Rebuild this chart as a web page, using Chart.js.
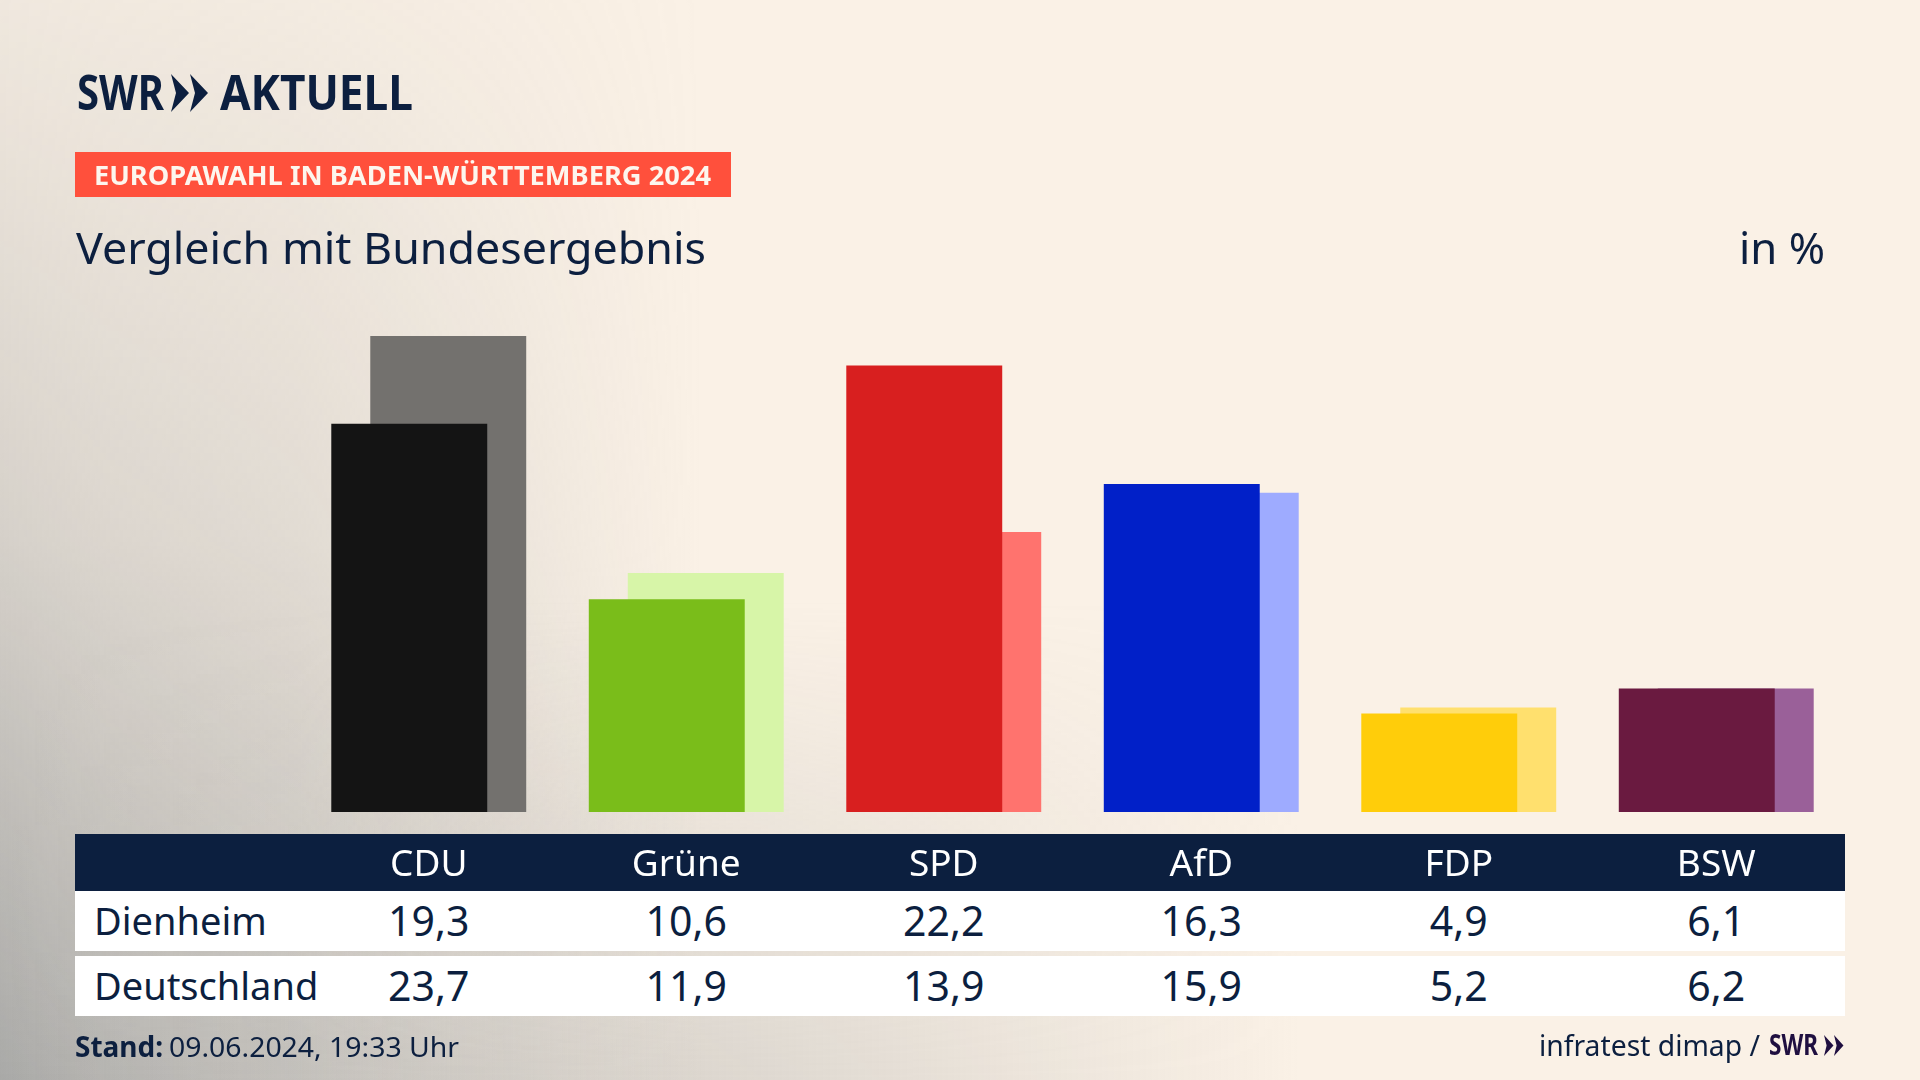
<!DOCTYPE html>
<html lang="de"><head><meta charset="utf-8">
<script src="https://cdn.jsdelivr.net/npm/chart.js@4"></script>
<style>
html,body{margin:0;padding:0;width:1920px;height:1080px;overflow:hidden}
body{position:relative;background:#faf1e6;font-family:"Noto Sans",sans-serif;color:#0c1f3f}
.shade{position:absolute;left:0;top:0;width:1920px;height:1080px}
#shadeA{background:linear-gradient(to right,rgba(169,169,167,1) 0,rgba(169,169,167,.84) 104px,rgba(169,169,167,.66) 300px,rgba(169,169,167,.36) 494px,rgba(169,169,167,0) 702px);
-webkit-mask-image:linear-gradient(to top,rgba(0,0,0,1) 0,rgba(0,0,0,.72) 280px,rgba(0,0,0,.45) 540px,rgba(0,0,0,.12) 1080px);
mask-image:linear-gradient(to top,rgba(0,0,0,1) 0,rgba(0,0,0,.72) 280px,rgba(0,0,0,.45) 540px,rgba(0,0,0,.12) 1080px)}
#shadeB{background:linear-gradient(to right,rgba(169,169,167,0) 0,rgba(169,169,167,.05) 300px,rgba(169,169,167,.23) 494px,rgba(169,169,167,.37) 702px,rgba(169,169,167,.25) 910px,rgba(169,169,167,.12) 1105px,rgba(169,169,167,0) 1300px);
-webkit-mask-image:linear-gradient(to top,rgba(0,0,0,1) 0,rgba(0,0,0,.45) 280px,rgba(0,0,0,0) 480px);
mask-image:linear-gradient(to top,rgba(0,0,0,1) 0,rgba(0,0,0,.45) 280px,rgba(0,0,0,0) 480px)}
.t{position:absolute;white-space:nowrap;line-height:1;transform-origin:0 0}
#chart{position:absolute;left:0;top:0;z-index:2}
.row{position:absolute;left:75px;width:1770px;height:60px;display:grid;grid-template-columns:225px repeat(6,1fr);background:#fff;font-size:41px}
.row div{text-align:center;line-height:58px;height:60px}
.row div:first-child{text-align:left;padding-left:19px;font-size:38px;line-height:59px}
svg{position:absolute}
</style></head><body>
<div class="shade" id="shadeA"></div>
<div class="shade" id="shadeB"></div>
<div class="t" data-w="87" style="left:77px;top:66.5px;font-size:49px;font-weight:700">SWR</div>
<svg style="left:171px;top:74px" width="38" height="38" viewBox="0 0 38 38"><polygon fill="#0c1f3f" points="0,0 18,19 0,38 5,19"/><polygon fill="#0c1f3f" points="19,0 37,19 19,38 24,19"/></svg>
<div class="t" data-w="193" style="left:220px;top:66.5px;font-size:49px;font-weight:700">AKTUELL</div>
<div style="position:absolute;left:75px;top:152px;width:656px;height:45px;background:#ff503c"></div>
<div class="t" data-w="617" style="left:94px;top:162px;font-size:26px;font-weight:700;color:#fdf6ee">EUROPAWAHL IN BADEN-WÜRTTEMBERG 2024</div>
<div class="t" data-w="630" style="left:76px;top:225px;font-size:44px">Vergleich mit Bundesergebnis</div>
<div class="t" data-w="86" style="left:1739px;top:225px;font-size:44px">in %</div>
<div style="position:absolute;left:75px;top:834px;width:1770px;height:57px;background:#0c1f3f"></div>
<div class="row" id="r1" style="top:891px"></div>
<div class="row" id="r2" style="top:956px"></div>
<div class="t" data-w="88" style="left:75px;top:1032px;font-size:28px;font-weight:700">Stand:</div>
<div class="t" data-w="290" style="left:169px;top:1032px;font-size:28px">09.06.2024, 19:33 Uhr</div>
<div class="t" data-w="221" style="left:1539px;top:1030px;font-size:29px">infratest dimap /</div>
<div class="t" data-w="49" style="left:1769px;top:1030px;font-size:28px;font-weight:700;color:#1f0f40">SWR</div>
<svg style="left:1824px;top:1035px" width="20" height="21" viewBox="0 0 38 38" preserveAspectRatio="none"><polygon fill="#1f0f40" points="0,0 18,19 0,38 5,19"/><polygon fill="#1f0f40" points="19,0 37,19 19,38 24,19"/></svg>
<canvas id="chart" width="1920" height="1080"></canvas>
<script>
const categories=["CDU","Grüne","SPD","AfD","FDP","BSW"];
const seriesNames=["Dienheim","Deutschland"];
const dienheim=[19.34,10.6,22.24,16.34,4.9,6.149];
const deutschland=[23.7,11.9,13.94,15.9,5.2,6.151];
const frontColors=["#141414","#7abd1a","#d81f1f","#0120c8","#ffcd0a","#6a1a40"];
const backColors=["#73716e","#d7f5a8","#ff736e","#9eabff","#ffe06e","#9a6099"];
const fmt=v=>v.toFixed(1).replace(".",",");
[["r1",seriesNames[0],dienheim],["r2",seriesNames[1],deutschland]].forEach(([id,n,vals])=>{
  document.getElementById(id).innerHTML="<div>"+n+"</div>"+vals.map(v=>"<div>"+fmt(v)+"</div>").join("");
});
document.querySelectorAll(".t[data-w]").forEach(e=>{
  const w=e.getBoundingClientRect().width;
  e.style.transform="scaleX("+(+e.dataset.w/w)+")";
});
new Chart(document.getElementById("chart"),{
  type:"bar",
  data:{labels:categories,datasets:[
    {label:seriesNames[0],data:dienheim,backgroundColor:frontColors},
    {label:seriesNames[1],data:deutschland,backgroundColor:backColors}
  ]},
  options:{
    responsive:false,animation:false,devicePixelRatio:1,
    categoryPercentage:0.3028,barPercentage:4,
    layout:{padding:{left:300,right:75,top:310,bottom:0}},
    plugins:{legend:{display:false},tooltip:{enabled:false}},
    scales:{
      x:{grid:{display:false},border:{display:false},
         afterFit:s=>{s.height=268;},
         ticks:{color:"#ffffff",font:{family:"Noto Sans",size:37},padding:23,maxRotation:0,autoSkip:false}},
      y:{display:false,min:0,max:25}
    }
  }
});
</script>
</body></html>
